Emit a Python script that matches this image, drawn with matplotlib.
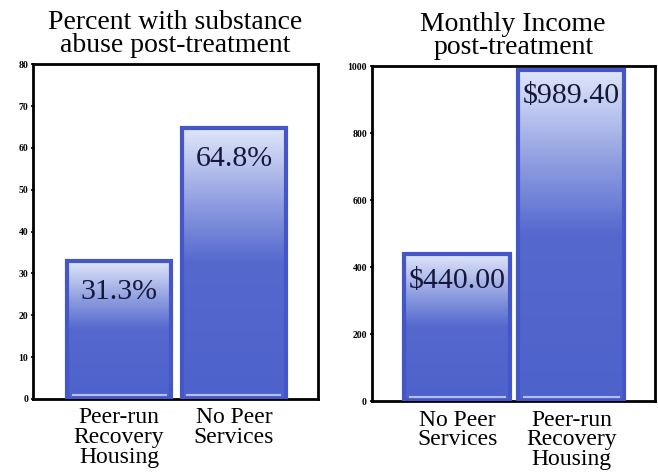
import numpy as np
import matplotlib
matplotlib.use('Agg')
import matplotlib.pyplot as plt
from matplotlib.colors import LinearSegmentedColormap

# data
left_title = 'Percent with substance\nabuse post-treatment'
left_cats = ['Peer-run\nRecovery\nHousing', 'No Peer\nServices']
left_vals = [33.0, 64.8]   # bar heights as drawn
left_labels = ['31.3%', '64.8%']
left_ticks = [0, 10, 20, 30, 40, 50, 60, 70, 80]

right_title = 'Monthly Income\npost-treatment'
right_cats = ['No Peer\nServices', 'Peer-run\nRecovery\nHousing']
right_vals = [440.00, 989.40]
right_labels = ['$440.00', '$989.40']
right_ticks = [0, 200, 400, 600, 800, 1000]

plt.rcParams['font.family'] = ['Liberation Serif', 'DejaVu Serif']

cmap = LinearSegmentedColormap.from_list(
    'barfade', [(0.0, '#4e62cc'), (0.5, '#5468ce'), (0.72, '#8e9de0'),
                (0.9, '#c4cdf1'), (1.0, '#dfe6f9')])


def draw_panel(ax, cats, vals, labels, ticks, ymax, width, title, label_off):
    x = np.arange(len(vals))
    bars = ax.bar(x, vals, width=width, color='#4e62cc', linewidth=0, zorder=2)
    for b, v, lab in zip(bars, vals, labels):
        x0 = b.get_x()
        w = b.get_width()
        grad = np.linspace(0, 1, 200).reshape(-1, 1)
        img = ax.imshow(grad, extent=[x0, x0 + w, 0, v], origin='lower',
                        cmap=cmap, aspect='auto', zorder=2.5)
        img.set_clip_path(b)
        # thin light strip near the base
        ax.plot([x0 + 0.05, x0 + w - 0.05], [ymax * 0.012] * 2,
                color='#b4bfee', lw=1.5, zorder=3)
        ax.text(x0 + w / 2, v - label_off, lab, ha='center', va='center',
                fontsize=21.5, color='#15183a', zorder=4)
    # outline on top of the gradient
    ax.bar(x, vals, width=width, fill=False, edgecolor='#4557c6',
           linewidth=3, zorder=3.5)
    ax.set_ylim(0, ymax)
    ax.set_xlim(-0.75, 1.73)
    ax.set_yticks(ticks)
    ax.set_yticklabels([str(t) for t in ticks], fontsize=7, fontweight='bold')
    ax.tick_params(axis='y', length=3, width=1.2, pad=2, direction='inout')
    ax.set_xticks(x)
    ax.set_xticklabels(cats, fontsize=17, linespacing=0.92)
    ax.tick_params(axis='x', length=0, pad=6)
    for s in ax.spines.values():
        s.set_linewidth(2)
    ax.set_title(title, fontsize=20, linespacing=0.86, pad=9)


fig = plt.figure(figsize=(6.58, 4.72), dpi=100)
ax1 = fig.add_axes([0.050, 0.155, 0.433, 0.709])
ax2 = fig.add_axes([0.565, 0.150, 0.430, 0.710])

draw_panel(ax1, left_cats, left_vals, left_labels, left_ticks, 80, 0.91,
           left_title, 7.5)
draw_panel(ax2, right_cats, right_vals, right_labels, right_ticks, 1000, 0.93,
           right_title, 80)

fig.savefig('out.png', dpi=100)
